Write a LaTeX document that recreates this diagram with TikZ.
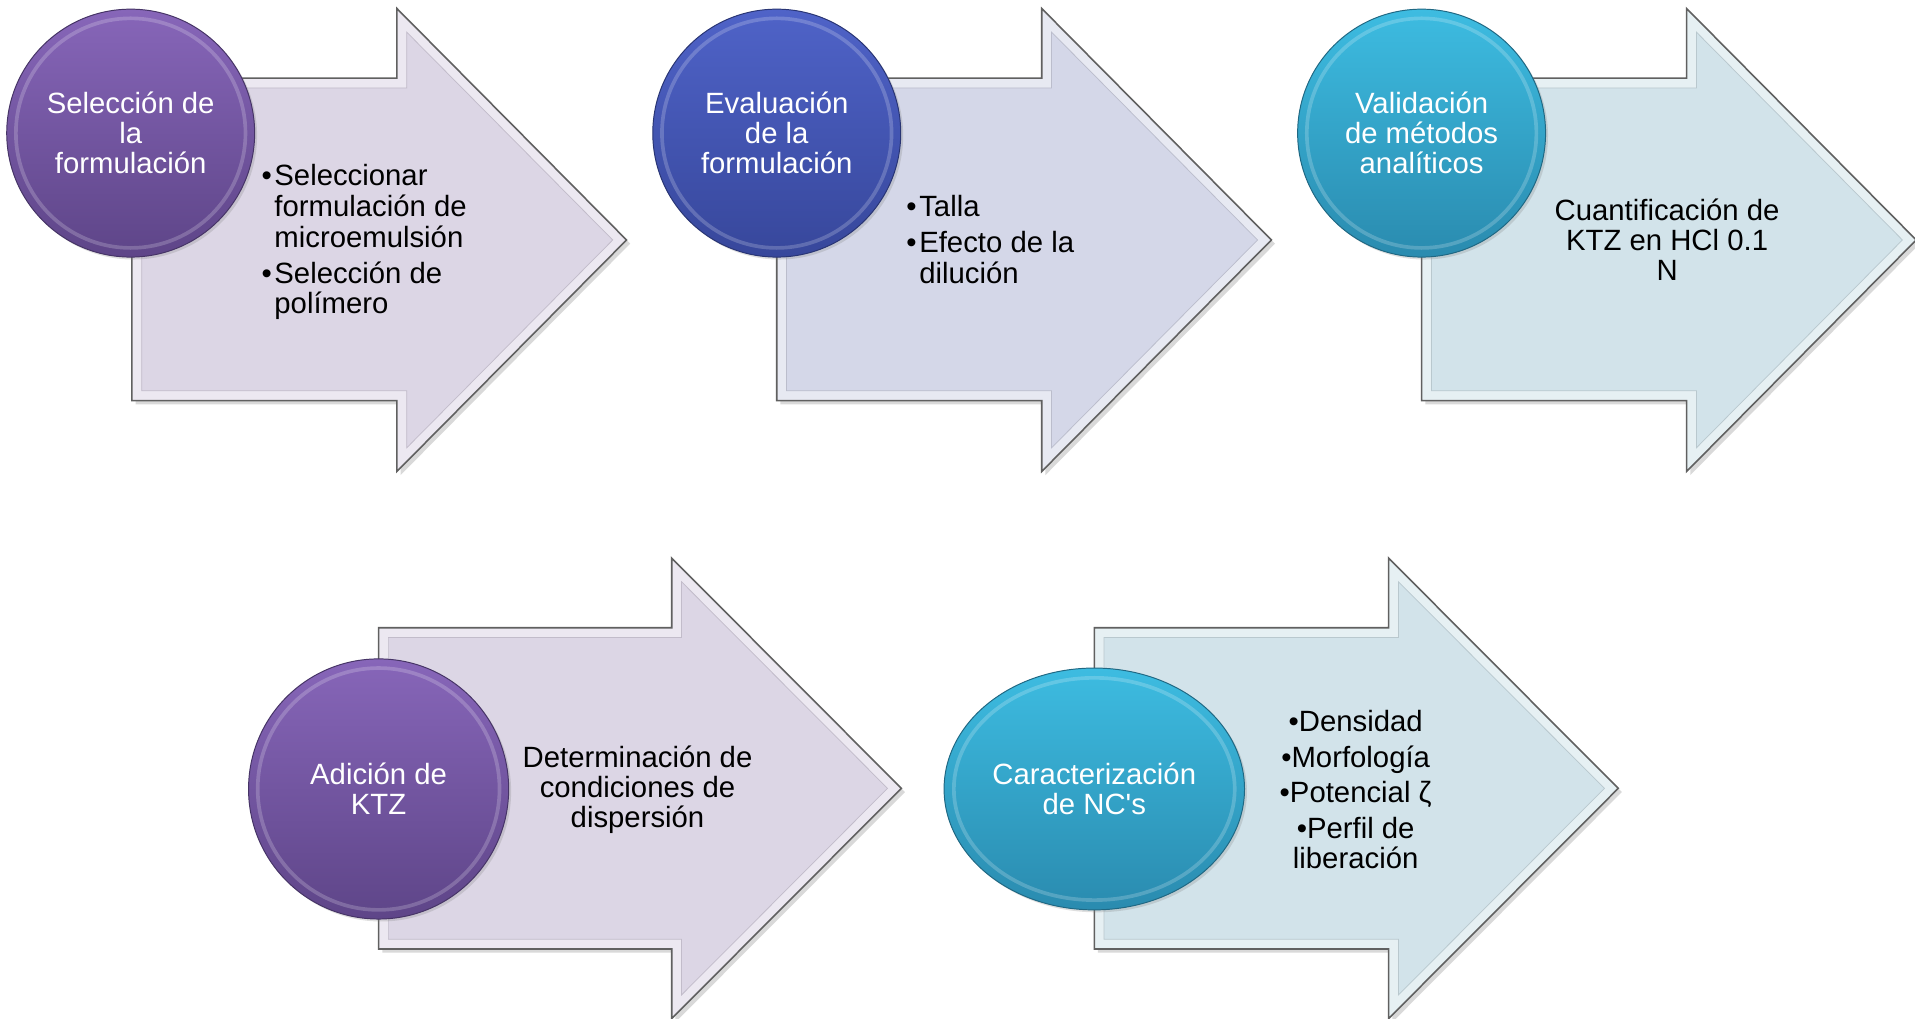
\documentclass[tikz,border=0pt]{standalone}
\usepackage{fontspec}
\setmainfont{Liberation Sans}
\usetikzlibrary{shapes.geometric,shadows}

\definecolor{lavFill}{HTML}{DCD6E5}
\definecolor{periFill}{HTML}{D4D7E8}
\definecolor{iceFill}{HTML}{D2E3EA}
\definecolor{purTop}{HTML}{8766B9}
\definecolor{purBot}{HTML}{5E4588}
\definecolor{bluTop}{HTML}{4F63C8}
\definecolor{bluBot}{HTML}{37479B}
\definecolor{cyaTop}{HTML}{3DBCE1}
\definecolor{cyaBot}{HTML}{2A8BAF}

% bevelled block arrow
% #1 fill, #2 body left, #3 head base, #4 tip, #5 body top, #6 body bottom, #7 head top, #8 head bottom
\newcommand\flowarrow[8]{%
  \fill[black, opacity=0.15]
    ({#2+3},{#5+3}) -- ({#3+3},{#5+3}) -- ({#3+3},{#7+3}) -- ({#4+3},{(#7+#8)/2+3})
    -- ({#3+3},{#8+3}) -- ({#3+3},{#6+3}) -- ({#2+3},{#6+3}) -- cycle;
  \filldraw[fill=#1!55!white, draw=gray!75!black, line width=1.3pt, line join=miter]
    (#2,#5) -- (#3,#5) -- (#3,#7) -- (#4,{(#7+#8)/2})
    -- (#3,#8) -- (#3,#6) -- (#2,#6) -- cycle;
  \filldraw[fill=#1, draw=#1!88!black, line width=0.6pt]
    ({#2+8},{#5+8}) -- ({#3+8},{#5+8}) -- ({#3+8},{#7+19.3}) -- ({#4-11.3},{(#7+#8)/2})
    -- ({#3+8},{#8-19.3}) -- ({#3+8},{#6-8}) -- ({#2+8},{#6-8}) -- cycle;
}

\tikzset{
  basefont/.style={font=\fontsize{24}{24.5}\selectfont},
  disc/.style={circle, inner sep=0pt, align=center, text=white, basefont,
    line width=0.8pt,
    drop shadow={shadow xshift=2pt, shadow yshift=-2pt, opacity=0.25}},
  oval/.style={ellipse, inner sep=0pt, align=center, text=white, basefont,
    line width=0.8pt,
    drop shadow={shadow xshift=2pt, shadow yshift=-2pt, opacity=0.25}},
  rim/.style={white, opacity=0.2, line width=3pt},
  txt/.style={inner sep=0pt, text=black, basefont},
  purple disc/.style={top color=purTop, bottom color=purBot, draw=purBot!75!black},
  blue disc/.style={top color=bluTop, bottom color=bluBot, draw=bluBot!75!black},
  cyan disc/.style={top color=cyaTop, bottom color=cyaBot, draw=cyaBot!75!black},
}

\newcommand\bul{\makebox[10.5pt][l]{•}}

\begin{document}
\begin{tikzpicture}[x=1pt, y=-1pt]
\path[use as bounding box, fill=white] (0,0) rectangle (1568,834);

% ---- arrows
\flowarrow{lavFill}{108}{325}{513}{64}{328}{7}{386}
\flowarrow{periFill}{636}{853}{1041}{64}{328}{7}{386}
\flowarrow{iceFill}{1164}{1381}{1569}{64}{328}{7}{386}
\flowarrow{lavFill}{310}{550}{738}{514}{777}{457}{834}
\flowarrow{iceFill}{896}{1137}{1325}{514}{777}{457}{834}

% ---- stage discs
\node[disc, purple disc, minimum size=203pt] (c1) at (107,109) {Selección de\\la\\formulación};
\draw[rim] (c1.center) circle[radius=94pt];
\node[disc, blue disc, minimum size=203pt] (c2) at (636,109) {Evaluación\\de la\\formulación};
\draw[rim] (c2.center) circle[radius=94pt];
\node[disc, cyan disc, minimum size=203pt] (c3) at (1164,109) {Validación\\de métodos\\analíticos};
\draw[rim] (c3.center) circle[radius=94pt];
\node[disc, purple disc, minimum size=213pt] (c4) at (310,646) {Adición de\\KTZ};
\draw[rim] (c4.center) circle[radius=99pt];
\node[oval, cyan disc, minimum width=246pt, minimum height=198pt] (c5) at (896,646) {Caracterización\\de NC\textquotesingle s};
\draw[rim] (c5.center) ellipse[x radius=115pt, y radius=91pt];

% ---- arrow contents
\node[txt, anchor=west] (t1) at (214,199.5) {\begin{tabular}{@{}l@{}l@{}}
  \bul & Seleccionar\\ & formulación de\\ & microemulsión\\[4.5pt]
  \bul & Selección de\\ & polímero\end{tabular}};
\node[txt, anchor=west] (t2) at (742,199.5) {\begin{tabular}{@{}l@{}l@{}}
  \bul & Talla\\[5pt]
  \bul & Efecto de la\\ & dilución\end{tabular}};
\node[txt, align=center] (t3) at (1365,196) {Cuantificación de\\KTZ en HCl 0.1\\N};
\node[txt, align=center] (t4) at (522,646.5) {Determinación de\\condiciones de\\dispersión};
\node[txt, align=center] (t5) at (1110,646.5) {•Densidad\\[4.5pt]•Morfología\\[4.5pt]•Potencial ζ\\[4.5pt]•Perfil de\\liberación};
\end{tikzpicture}
\end{document}
